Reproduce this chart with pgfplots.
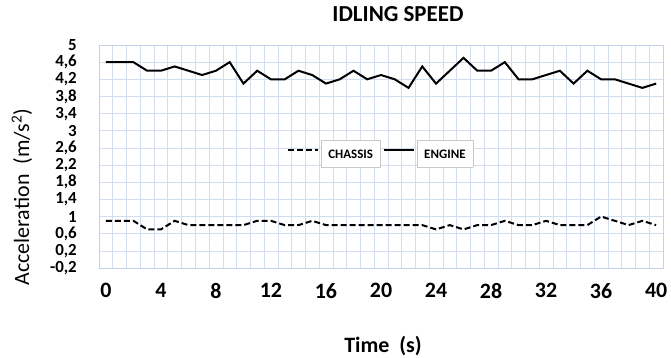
\documentclass[border=0pt]{standalone}
\usepackage{pgfplots}
\pgfplotsset{compat=1.18}
\usepackage{fontspec}
\setmainfont{Carlito}
\definecolor{gridc}{RGB}{210,222,240}
\definecolor{axc}{RGB}{195,210,232}
\definecolor{boxc}{RGB}{200,200,200}
\setlength{\fboxsep}{7bp}
\setlength{\fboxrule}{0.6bp}
\newcommand{\legbox}[1]{\fcolorbox{boxc}{white}{\rule[-1.5bp]{0pt}{12.5bp}#1}}
\begin{document}
\begin{tikzpicture}
\path[use as bounding box] (-99bp,-90bp) rectangle (572bp,268bp);
\begin{axis}[
  at={(0,0)}, anchor=south west,
  scale only axis, width=564bp, height=223bp,
  xmin=-0.5, xmax=40.5, ymin=-0.2, ymax=5,
  xtick={0,4,...,40},
  minor xtick={-0.5,0.5,...,40.5},
  ytick={-0.2,0.2,0.6,1,1.4,1.8,2.2,2.6,3,3.4,3.8,4.2,4.6,5},
  major tick length=0pt, minor tick length=0pt,
  xmajorgrids=false, xminorgrids=true, ymajorgrids=true,
  grid style={draw=gridc, line width=0.6bp},
  minor grid style={draw=gridc, line width=0.6bp},
  axis line style={draw=axc, line width=0.8bp},
  /pgf/number format/assume math mode=true,
  /pgf/number format/use comma,
  /pgf/number format/fixed,
  /pgf/number format/precision=1,
  yticklabel style={font=\bfseries\fontsize{17}{17}\selectfont, inner sep=0pt, anchor=east, xshift=-22bp},
  xticklabel style={font=\bfseries\fontsize{22}{22}\selectfont, inner sep=0pt, anchor=north, yshift=-15bp},
  title={IDLING SPEED},
  title style={font=\bfseries\fontsize{23}{23}\selectfont, at={(axis description cs:0.530,1.114)}, anchor=center},
  xlabel={Time\ \ (s)},
  xlabel style={font=\bfseries\fontsize{22}{22}\selectfont, at={(axis description cs:0.5035,-0.350)}, anchor=center},
  ylabel={Acceleration\ \ (m/s\textsuperscript{2})},
  ylabel style={font=\fontsize{22}{22}\selectfont, at={(axis description cs:-0.1365,0.318)}, anchor=center, rotate=0},
  legend columns=2,
  legend style={draw=none, fill=none, at={(axis cs:20,2.55)}, anchor=center,
    font=\bfseries\fontsize{13}{13}\selectfont,
    /tikz/every even column/.append style={column sep=0pt},
    inner sep=0pt, row sep=0pt},
  legend image code/.code={\draw[#1] (0bp,0bp) -- (30bp,0bp);},
]
\addplot[black, line width=2bp, dash pattern=on 6bp off 3bp] coordinates {
(0,0.9)(1,0.9)(2,0.9)(3,0.7)(4,0.7)(5,0.9)(6,0.8)(7,0.8)(8,0.8)(9,0.8)
(10,0.8)(11,0.9)(12,0.9)(13,0.8)(14,0.8)(15,0.9)(16,0.8)(17,0.8)(18,0.8)(19,0.8)
(20,0.8)(21,0.8)(22,0.8)(23,0.8)(24,0.7)(25,0.8)(26,0.7)(27,0.8)(28,0.8)(29,0.9)
(30,0.8)(31,0.8)(32,0.9)(33,0.8)(34,0.8)(35,0.8)(36,1.0)(37,0.9)(38,0.8)(39,0.9)
(40,0.8)};
\addlegendentry{\legbox{CHASSIS}}
\addplot[black, line width=2bp] coordinates {
(0,4.6)(1,4.6)(2,4.6)(3,4.4)(4,4.4)(5,4.5)(6,4.4)(7,4.3)(8,4.4)(9,4.6)
(10,4.1)(11,4.4)(12,4.2)(13,4.2)(14,4.4)(15,4.3)(16,4.1)(17,4.2)(18,4.4)(19,4.2)
(20,4.3)(21,4.2)(22,4.0)(23,4.5)(24,4.1)(25,4.4)(26,4.7)(27,4.4)(28,4.4)(29,4.6)
(30,4.2)(31,4.2)(32,4.3)(33,4.4)(34,4.1)(35,4.4)(36,4.2)(37,4.2)(38,4.1)(39,4.0)
(40,4.1)};
\addlegendentry{\legbox{ENGINE}}
\end{axis}
\end{tikzpicture}
\end{document}
